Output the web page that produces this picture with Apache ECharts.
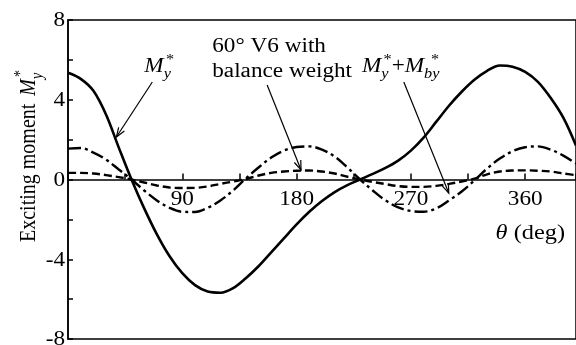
<!DOCTYPE html>
<html>
<head>
<meta charset="utf-8">
<script src="https://cdn.jsdelivr.net/npm/echarts@6/dist/echarts.min.js"></script>
<style>
  html, body { margin: 0; padding: 0; background: #fff; }
  #chart { width: 576px; height: 345px; }
</style>
</head>
<body>
<div id="chart"></div>
<script>
// Crank angle theta (deg)
const theta = [0, 10, 20, 30, 40, 50, 60, 70, 80, 90, 100, 110, 120, 130, 140, 150, 160, 170, 180, 190,
  200, 210, 220, 230, 240, 250, 260, 270, 280, 290, 300, 310, 320, 330, 340, 350, 360, 370, 380, 390, 400];

// Exciting moment M*y (solid)
const myMoment = [5.35, 5.05, 4.45, 3.25, 1.6, 0.0, -1.45, -2.75, -3.85, -4.7, -5.3, -5.62, -5.68, -5.45, -4.95,
  -4.35, -3.65, -2.95, -2.25, -1.62, -1.08, -0.63, -0.28, 0.0, 0.28, 0.58, 0.95, 1.45, 2.1, 2.9, 3.7, 4.4,
  5.0, 5.45, 5.72, 5.66, 5.4, 4.9, 4.1, 3.1, 1.7];

// M*y + M*by (dash-dot)
const myPlusMby = [1.55, 1.58, 1.35, 1.0, 0.5, 0.0, -0.55, -1.05, -1.42, -1.62, -1.63, -1.42, -1.05, -0.55,
  0.05, 0.6, 1.1, 1.45, 1.63, 1.66, 1.5, 1.15, 0.6, 0.0, -0.55, -1.05, -1.4, -1.58, -1.62, -1.45, -1.05, -0.6,
  -0.05, 0.55, 1.05, 1.42, 1.62, 1.66, 1.5, 1.2, 0.8];

// 60° V6 with balance weight (dashed)
const v6Balanced = [0.33, 0.33, 0.3, 0.22, 0.12, 0.0, -0.15, -0.3, -0.4, -0.43, -0.42, -0.35, -0.22, -0.1,
  0.02, 0.2, 0.33, 0.4, 0.44, 0.45, 0.4, 0.3, 0.14, 0.0, -0.12, -0.23, -0.33, -0.37, -0.37, -0.32, -0.22, -0.1,
  0.04, 0.26, 0.4, 0.45, 0.46, 0.44, 0.4, 0.3, 0.22];

const xTickLabels = [90, 180, 270, 360];
const yTickLabels = [8, 4, 0, -4, -8];

const FAMILY = 'Liberation Serif';
const SX = 1.16;             // the typeface is set slightly wide
const pairs = (vals) => theta.map((t, i) => [t, vals[i]]);

const chart = echarts.init(document.getElementById('chart'), null, { renderer: 'canvas' });

chart.setOption({
  animation: false,
  backgroundColor: '#fff',
  grid: { left: 68, top: 20, width: 510, height: 319, show: true, borderColor: '#000', borderWidth: 1.5 },
  xAxis: {
    type: 'value', min: 0, max: 400, interval: 45,
    axisLine: { onZero: true, lineStyle: { color: '#000', width: 1.5 } },
    axisTick: { inside: true, length: 6, lineStyle: { color: '#000', width: 1.5 } },
    axisLabel: { show: false },
    splitLine: { show: false }
  },
  yAxis: {
    type: 'value', min: -8, max: 8, interval: 2,
    axisLine: { show: true, onZero: false, lineStyle: { color: '#000', width: 1.5 } },
    axisTick: { inside: true, length: 5, lineStyle: { color: '#000', width: 1.5 } },
    axisLabel: { show: false },
    splitLine: { show: false }
  },
  series: [
    { name: 'M*y', type: 'line', data: pairs(myMoment), smooth: 0.35, showSymbol: false,
      lineStyle: { color: '#000', width: 2.6 } },
    { name: 'M*y+M*by', type: 'line', data: pairs(myPlusMby), smooth: 0.35, showSymbol: false,
      lineStyle: { color: '#000', width: 2.4, type: [13, 4, 3, 4] } },
    { name: '60° V6 with balance weight', type: 'line', data: pairs(v6Balanced), smooth: 0.35, showSymbol: false,
      lineStyle: { color: '#000', width: 2.4, type: [8, 4] } }
  ]
});

// ---- text helpers ----
const measure = document.createElement('canvas').getContext('2d');
function textWidth(t, size, italic) {
  measure.font = (italic ? 'italic ' : '') + size + 'px "' + FAMILY + '"';
  return measure.measureText(t).width;
}
function piece(t, x, baseline, size, italic) {
  return {
    type: 'text', x: x, y: baseline - 0.34 * size,
    style: { text: t, fill: '#000', fontFamily: FAMILY, fontSize: size, fontStyle: italic ? 'italic' : 'normal',
      verticalAlign: 'middle', align: 'left' }
  };
}
// tokens: {t,s,it} plain run, {gap} spacing, {sup,sub,s} stacked super/subscript
function mathRun(tokens) {
  let x = 0;
  const kids = [];
  tokens.forEach((tk) => {
    if (tk.gap) { x += tk.gap; return; }
    if (tk.sup !== undefined) {
      kids.push(piece(tk.sup, x + (tk.supDx || 0), -tk.up, tk.s, false));
      kids.push(piece(tk.sub, x, tk.down, tk.s, true));
      x += Math.max(textWidth(tk.sup, tk.s, false) + (tk.supDx || 0), textWidth(tk.sub, tk.s, true));
      return;
    }
    kids.push(piece(tk.t, x, 0, tk.s, tk.it));
    x += textWidth(tk.t, tk.s, tk.it);
  });
  return kids;
}
function at(pt) { return chart.convertToPixel({ gridIndex: 0 }, pt); }
function label(pt, tokens) {
  const p = at(pt);
  return { type: 'group', x: p[0], y: p[1], scaleX: SX, children: mathRun(tokens) };
}
function arrow(from, to) {
  const a = at(from);
  const b = at(to);
  const ang = Math.atan2(b[1] - a[1], b[0] - a[0]);
  const L = 10, spread = 0.35;
  const h1 = [b[0] - L * Math.cos(ang - spread), b[1] - L * Math.sin(ang - spread)];
  const h2 = [b[0] - L * Math.cos(ang + spread), b[1] - L * Math.sin(ang + spread)];
  return [
    { type: 'line', shape: { x1: a[0], y1: a[1], x2: b[0], y2: b[1] }, style: { stroke: '#000', lineWidth: 1.2 } },
    { type: 'polyline', shape: { points: [h1, b, h2] }, style: { stroke: '#000', lineWidth: 1.2, fill: null } }
  ];
}

// tick labels placed through the axis scales
const tickStyle = { fontFamily: FAMILY, fontSize: 20, fill: '#000' };
const xLabels = xTickLabels.map((v) => {
  const p = at([v, 0]);
  return { type: 'text', x: p[0], y: p[1] + 10, scaleX: SX,
    style: Object.assign({ text: String(v), align: 'center', verticalAlign: 'top' }, tickStyle) };
});
const yLabels = yTickLabels.map((v) => {
  const p = at([0, v]);
  return { type: 'text', x: p[0] - 3, y: p[1] + 1, scaleX: SX,
    style: Object.assign({ text: String(v), align: 'right', verticalAlign: 'middle' }, tickStyle) };
});

const sy = { sup: '*', sub: 'y', s: 14, up: 9, down: 5, supDx: 2 };
const graphics = [
  label([60.1, 5.3], [{ t: 'M', s: 20, it: true }, sy]),
  label([113.6, 6.3], [{ t: '60° V6 with', s: 20 }]),
  label([113.6, 5.05], [{ t: 'balance weight', s: 20 }]),
  label([231.4, 5.3], [{ t: 'M', s: 20, it: true }, sy, { t: '+', s: 20 }, { t: 'M', s: 20, it: true },
    { sup: '*', sub: 'by', s: 14, up: 9, down: 5, supDx: 6 }]),
  label([336.7, -3.05], [{ t: 'θ', s: 21, it: true }, { t: ' (deg)', s: 21 }]),
  // vertical axis title, read bottom to top
  { type: 'group', x: 37, y: 242, rotation: Math.PI / 2, scaleY: SX,
    children: mathRun([{ t: 'Exciting moment', s: 20 }, { gap: 8 }, { t: 'M', s: 20, it: true },
      { sup: '*', sub: 'y', s: 14, up: 9, down: 5, supDx: 2 }]) }
]
  .concat(xLabels, yLabels)
  .concat(arrow([66.4, 4.89], [38.1, 2.13]))
  .concat(arrow([156.8, 4.74], [183.5, 0.48]))
  .concat(arrow([264.4, 4.89], [299.8, -0.68]));

chart.setOption({ graphic: graphics });
</script>
</body>
</html>
